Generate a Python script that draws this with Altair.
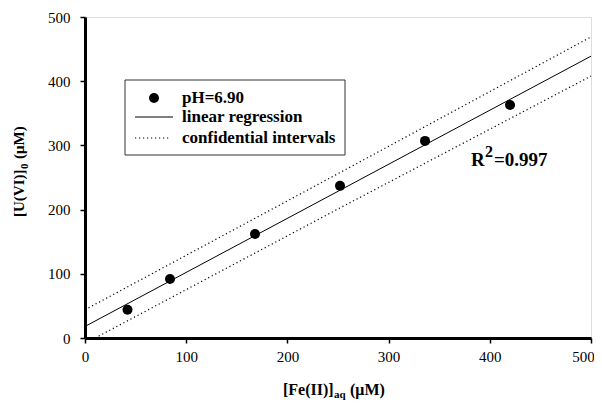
import altair as alt
import pandas as pd

# data
fe = [42, 84, 168, 252, 336, 420]
u = [44, 92, 162, 237, 307, 363]

reg_x = [0, 500]
reg_y = [18, 439]
up_x = [0, 250, 500]
up_y = [44, 256, 469]
lo_x = [10, 250, 500]
lo_y = [0, 201, 408]

FONT = "Liberation Serif"
W, H = 506, 321

pts = pd.DataFrame({"x": fe, "y": u})
reg = pd.DataFrame({"x": reg_x, "y": reg_y})
ci = pd.concat([
    pd.DataFrame({"x": up_x, "y": up_y, "g": "upper"}),
    pd.DataFrame({"x": lo_x, "y": lo_y, "g": "lower"}),
])

xs = alt.Scale(domain=[0, 500], nice=False, zero=False)
ys = alt.Scale(domain=[0, 500], nice=False, zero=False)

xaxis = alt.Axis(values=[0, 100, 200, 300, 400, 500], title=None, grid=False,
                 domainWidth=3, domainColor="black", tickColor="black", tickSize=5,
                 tickWidth=1.5, labelFont=FONT, labelFontSize=15, labelColor="black",
                 labelPadding=6, labelFlush=False,
                 labelOffset={"condition": {"test": "datum.value == 500", "value": -8}, "value": 0})
yaxis = alt.Axis(values=[0, 100, 200, 300, 400, 500], title=None, grid=False,
                 domainWidth=3, domainColor="black", tickColor="black", tickSize=5,
                 tickWidth=1.5, labelFont=FONT, labelFontSize=15, labelColor="black",
                 labelPadding=10, labelFlush=False)

base = alt.Chart(pts)

points = base.mark_circle(size=100, color="black", opacity=1).encode(
    x=alt.X("x:Q", scale=xs, axis=xaxis),
    y=alt.Y("y:Q", scale=ys, axis=yaxis),
)

reg_line = alt.Chart(reg).mark_line(color="black", strokeWidth=1).encode(
    x=alt.X("x:Q", scale=xs), y=alt.Y("y:Q", scale=ys))

ci_lines = alt.Chart(ci).mark_line(color="black", strokeWidth=1.2, strokeDash=[1.2, 2.8]).encode(
    x=alt.X("x:Q", scale=xs), y=alt.Y("y:Q", scale=ys), detail="g:N")

one = pd.DataFrame({"a": [0]})


def txt(text, x, y, size=15, bold=True, angle=0, align="left", baseline="alphabetic"):
    kw = dict(text=text, font=FONT, fontSize=size, fontWeight="bold" if bold else "normal",
              color="black", align=align, baseline=baseline)
    if angle:
        kw["angle"] = angle
    return alt.Chart(one).mark_text(**kw).encode(x=alt.value(x), y=alt.value(y))


# legend box
leg_box = alt.Chart(one).mark_rect(fill="white", stroke="#333333", strokeWidth=1).encode(
    x=alt.value(40), x2=alt.value(260), y=alt.value(63), y2=alt.value(138))
leg_dot = alt.Chart(one).mark_circle(size=100, color="black", opacity=1).encode(
    x=alt.value(69), y=alt.value(81))
leg_line = alt.Chart(one).mark_rule(color="black", strokeWidth=1).encode(
    x=alt.value(50), x2=alt.value(88), y=alt.value(100))
leg_dash = alt.Chart(one).mark_rule(color="black", strokeWidth=1.2, strokeDash=[1.2, 2.8]).encode(
    x=alt.value(50), x2=alt.value(85), y=alt.value(121))

leg_texts = [
    txt("pH=6.90", 97, 81, size=17, baseline="middle"),
    txt("linear regression", 97, 100, size=17, baseline="middle"),
    txt("confidential intervals", 97, 121, size=17, baseline="middle"),
]

# R^2 annotation
r2 = [
    txt("R", 386, 149, size=19),
    txt("2", 400, 140, size=16),
    txt("=0.997", 409, 149, size=19),
]

# axis titles with subscripts
xt = [
    txt("[Fe(II)]", 198, 378, size=16),
    txt("aq", 249, 381, size=11),
    txt("(\u03bcM)", 265, 378, size=16),
]
yt = [
    txt("[U(VI)]", -61, 200, size=15, angle=270),
    txt("0", -57, 152, size=11, angle=270),
    txt("(\u03bcM)", -61, 142, size=15, angle=270),
]

chart = alt.layer(
    ci_lines, reg_line, points, leg_box, leg_dot, leg_line, leg_dash,
    *leg_texts, *r2, *xt, *yt
).properties(
    width=W, height=H,
    autosize=alt.AutoSizeParams(type="none"),
    padding={"left": 77, "top": 9, "right": 3, "bottom": 62},
).configure_view(stroke="black", strokeWidth=2).configure(background="white")

chart.save("out.html", embed_options={"renderer": "svg", "actions": False})
